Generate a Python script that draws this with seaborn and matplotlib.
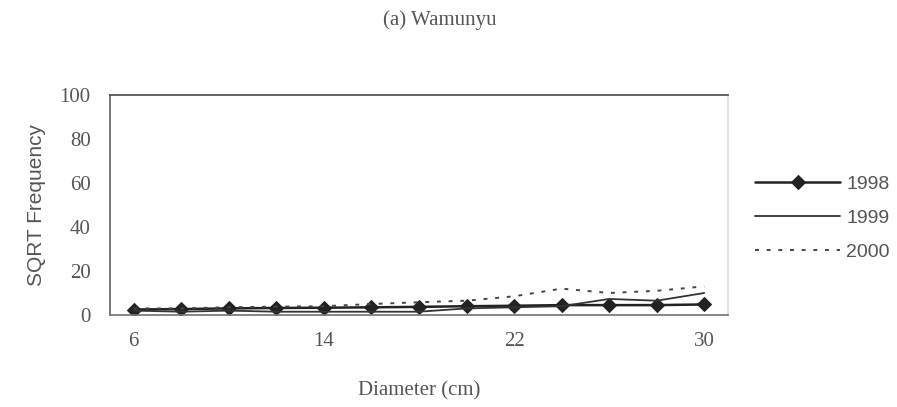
import matplotlib
matplotlib.use("Agg")
import matplotlib.pyplot as plt
import seaborn as sns
import pandas as pd

# Stem diameter classes (cm)
diameter = [6, 8, 10, 12, 14, 16, 18, 20, 22, 24, 26, 28, 30]

# Square-root transformed stem frequencies per survey year
freq_1998 = [2.5, 2.7, 3.0, 3.2, 3.3, 3.5, 3.7, 4.0, 4.2, 4.5, 4.5, 4.5, 4.8]
freq_1999 = [2.0, 1.5, 2.0, 1.5, 1.5, 1.5, 1.5, 3.0, 3.5, 4.0, 7.3, 6.5, 10.0]
freq_2000 = [3.0, 3.0, 3.5, 3.8, 4.0, 5.0, 5.8, 6.5, 8.5, 12.0, 10.0, 11.0, 13.0]

years = ["1998", "1999", "2000"]
y_ticks = [0, 20, 40, 60, 80, 100]
x_ticks = [6, 14, 22, 30]

df = pd.DataFrame({
    "Diameter (cm)": diameter * 3,
    "SQRT Frequency": freq_1998 + freq_1999 + freq_2000,
    "Year": [y for y in years for _ in diameter],
})

sns.set_theme(style="white")
serif = ["Liberation Serif", "DejaVu Serif"]
sans = ["Liberation Sans", "DejaVu Sans"]
plt.rcParams["font.family"] = serif
text_col = "#555555"

fig = plt.figure(figsize=(8.97, 4.07), dpi=100)
ax = fig.add_axes([0.1226, 0.226, 0.689, 0.541])

styles = {
    "1998": dict(color="#222222", lw=1.8, marker="D", markersize=7, dashes=None),
    "1999": dict(color="#333333", lw=1.3, marker=None, dashes=None),
    "2000": dict(color="#444444", lw=1.4, marker=None, dashes=(2, 4)),
}

for yr in years:
    sub = df[df["Year"] == yr]
    st = styles[yr]
    line_kw = dict(color=st["color"], linewidth=st["lw"], label=yr)
    if st["marker"]:
        line_kw.update(marker=st["marker"], markersize=st["markersize"],
                       markeredgecolor=st["color"], markerfacecolor=st["color"])
    sns.lineplot(data=sub, x="Diameter (cm)", y="SQRT Frequency", ax=ax,
                 estimator=None, **line_kw)
    if st["dashes"] is not None:
        ax.lines[-1].set_dashes(st["dashes"])

ax.set_xlim(5, 31)
ax.set_ylim(0, 100)
ax.set_xticks(x_ticks)
ax.set_yticks(y_ticks)
ax.tick_params(axis="both", colors=text_col, labelsize=15, length=0)
ax.tick_params(axis="x", pad=12)
ax.tick_params(axis="y", pad=14)
for lbl in ax.get_xticklabels() + ax.get_yticklabels():
    lbl.set_color(text_col)

ax.set_xlabel("Diameter (cm)", fontsize=15, color=text_col, labelpad=22)
ax.set_ylabel("SQRT Frequency", fontsize=15, color=text_col, family=sans,
              labelpad=10)

ax.spines["left"].set_color("#666666")
ax.spines["bottom"].set_color("#777777")
ax.spines["top"].set_color("#555555")
ax.spines["top"].set_linewidth(1.3)
ax.spines["right"].set_color("#dddddd")
for s in ax.spines.values():
    s.set_visible(True)

fig.text(0.49, 0.95, "(a) Wamunyu", ha="center", va="center",
         fontsize=15, color=text_col)

leg = ax.legend(loc="center left", bbox_to_anchor=(1.015, 0.44), frameon=False,
                handlelength=4.4, labelspacing=0.85, handletextpad=0.3,
                prop={"family": sans, "size": 14})
for t in leg.get_texts():
    t.set_color(text_col)

fig.savefig("out.png", dpi=100, facecolor="white")
